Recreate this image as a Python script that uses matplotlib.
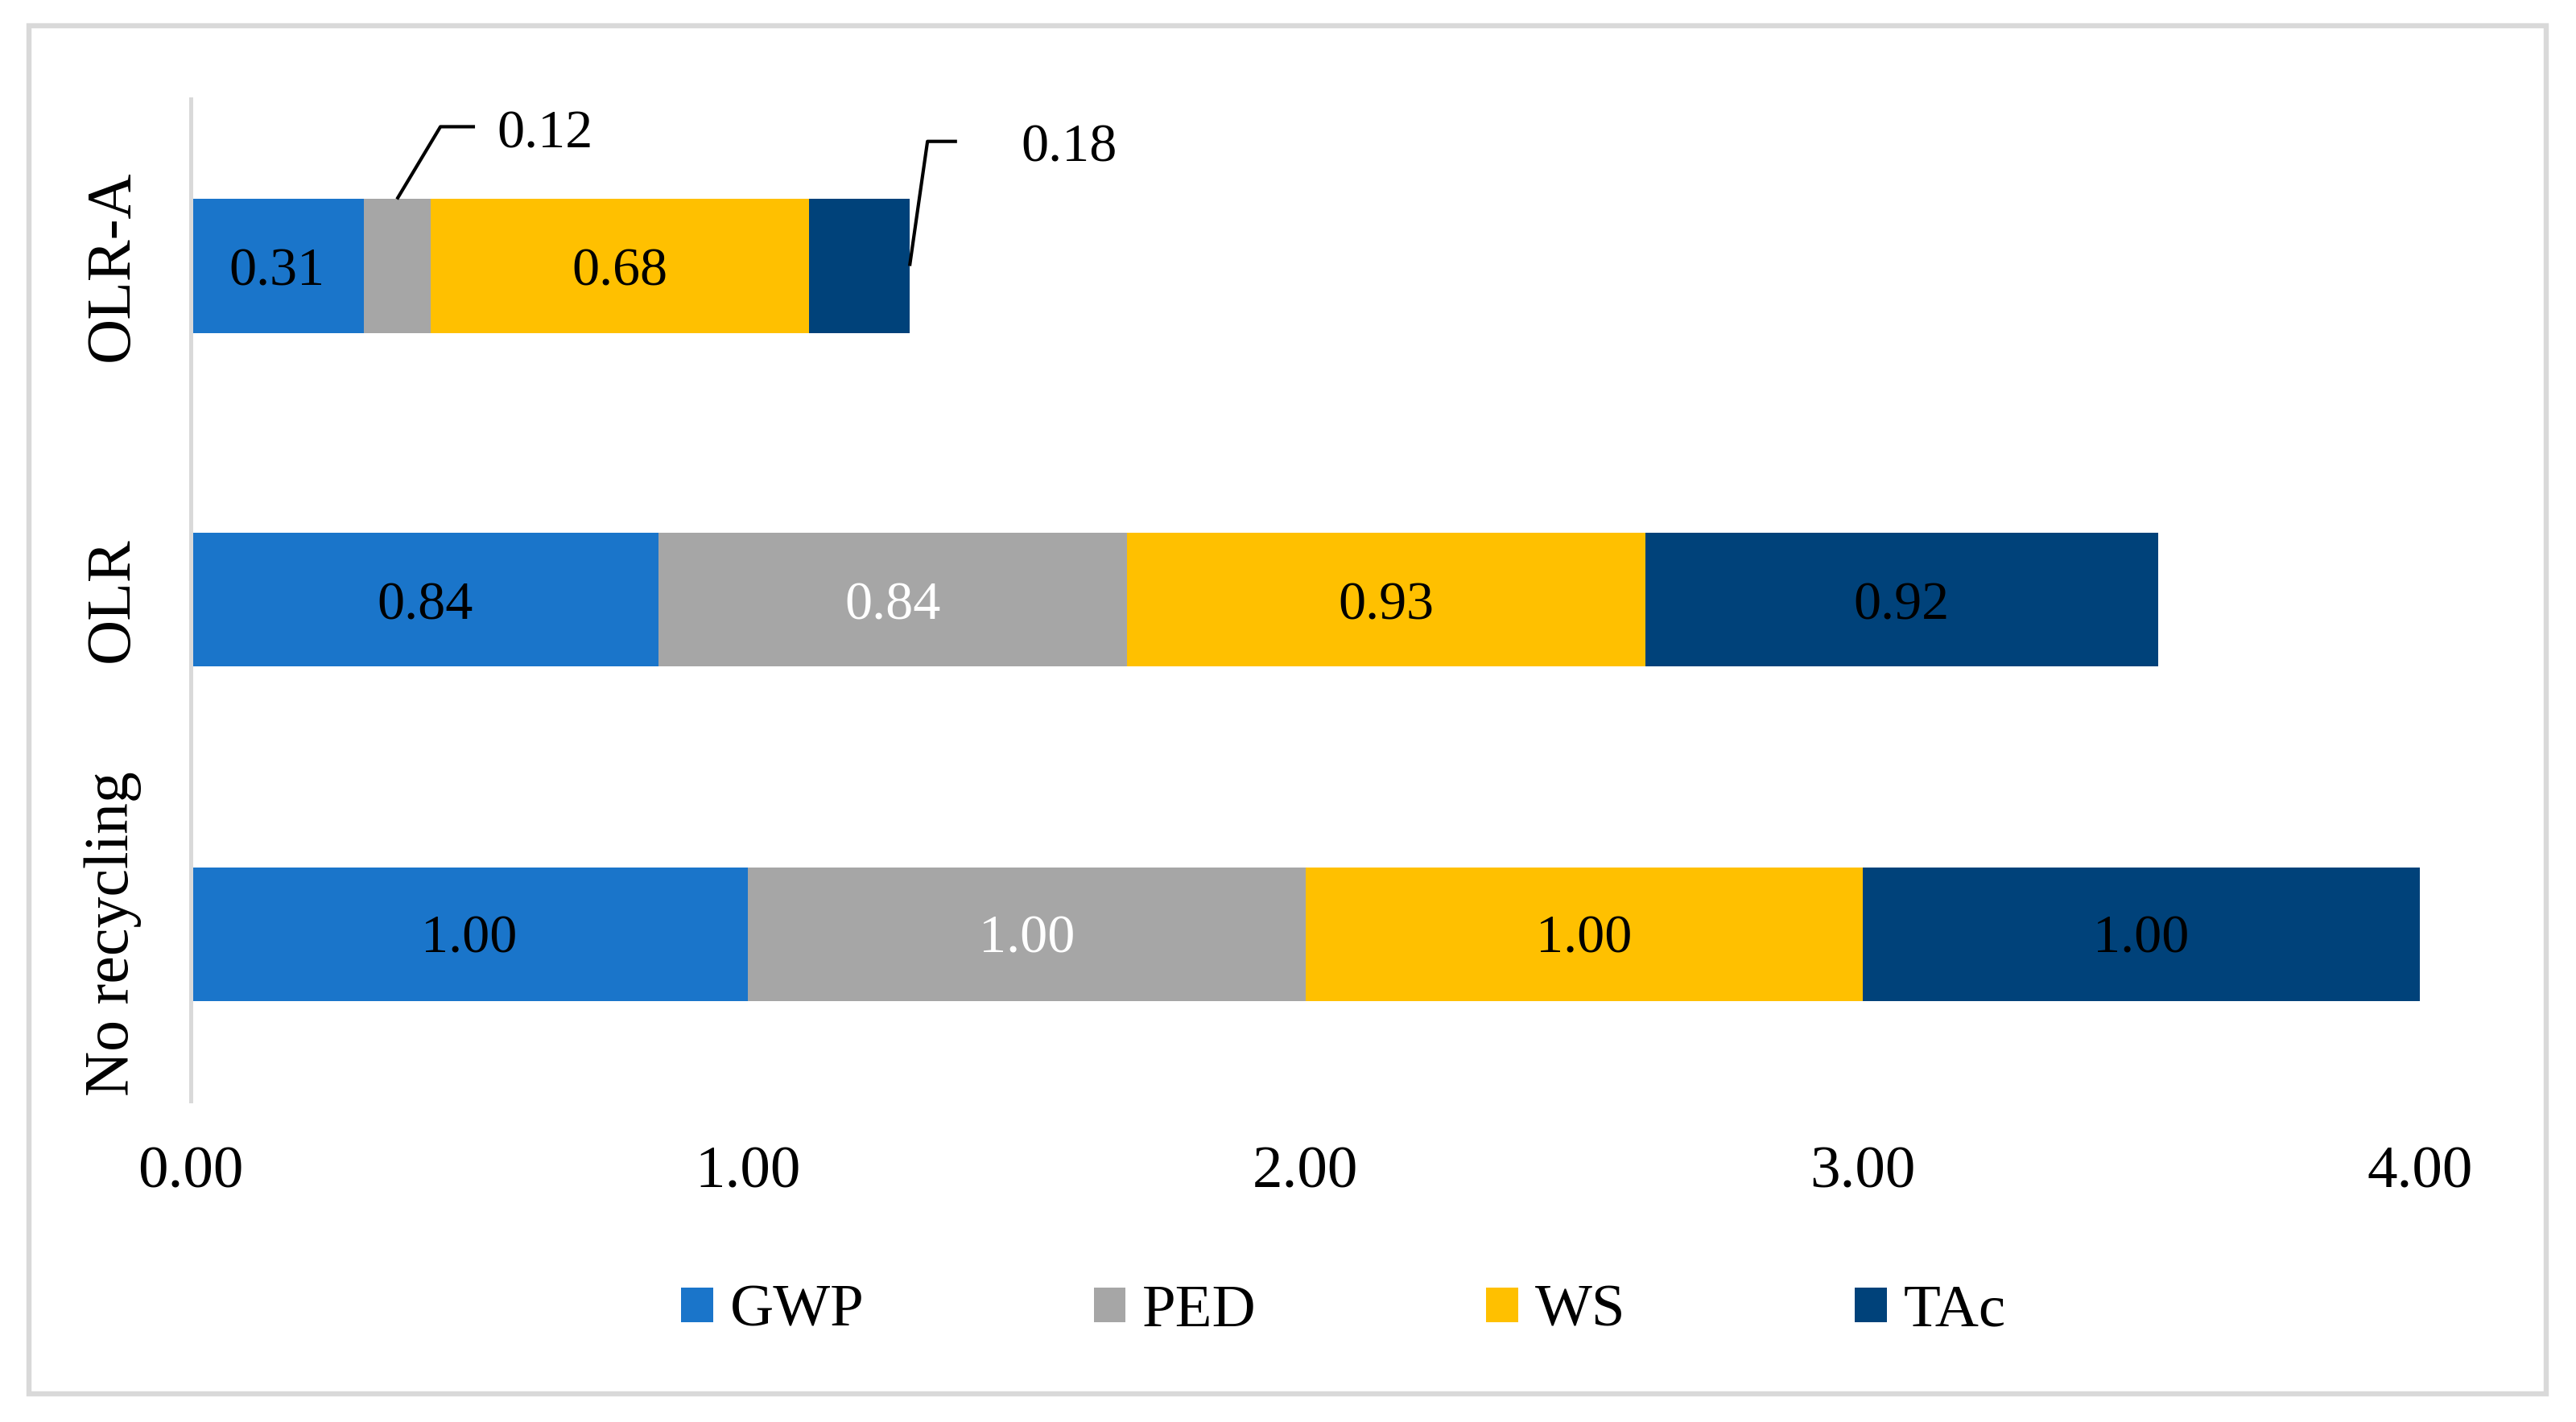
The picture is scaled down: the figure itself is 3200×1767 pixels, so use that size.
import matplotlib
matplotlib.use("Agg")
import matplotlib.pyplot as plt
from matplotlib.patches import Rectangle
import numpy as np

categories = ["No recycling", "OLR", "OLR-A"]
series = ["GWP", "PED", "WS", "TAc"]
gwp = [1.00, 0.84, 0.31]
ped = [1.00, 0.84, 0.12]
ws = [1.00, 0.93, 0.68]
tac = [1.00, 0.92, 0.18]
xticks = [0.0, 1.0, 2.0, 3.0, 4.0]
xticklabels = ["0.00", "1.00", "2.00", "3.00", "4.00"]

colors = ["#1A75CA", "#A6A6A6", "#FFC000", "#00427A"]
label_colors = ["black", "white", "black", "black"]

plt.rcParams['font.family'] = ['Liberation Serif', 'DejaVu Serif']

W, H = 3200, 1767
fig = plt.figure(figsize=(16, 8.835), dpi=200)
fig.patches.append(Rectangle((36 / W, 1 - 1732 / H), (3163 - 36) / W, (1732 - 32) / H,
                             transform=fig.transFigure, fill=False,
                             edgecolor="#D9D9D9", linewidth=2.3))

ax = fig.add_axes([237 / W, 1 - 1368 / H, (3006 - 237) / W, (1368 - 123) / H])
data = np.array([gwp, ped, ws, tac])
y = np.arange(len(categories))
left = np.zeros(len(categories))
bars = []
for i, name in enumerate(series):
    b = ax.barh(y, data[i], left=left, height=0.4, color=colors[i], label=name, linewidth=0)
    bars.append(b)
    for j in range(len(categories)):
        v = data[i][j]
        cx = left[j] + v / 2
        if j == 2 and name in ("PED", "TAc"):
            continue
        ax.text(cx, y[j], f"{v:.2f}", ha="center", va="center_baseline", fontsize=24.5,
                color=label_colors[i])
    left = left + data[i]

# leader-line labels for small OLR-A segments
j = 2
ped_center = gwp[j] + ped[j] / 2
ax.plot([ped_center, ped_center + 0.078, ped_center + 0.14],
        [y[j] + 0.2, y[j] + 0.417, y[j] + 0.417], color="black", lw=1.5,
        solid_capstyle="butt", clip_on=False)
ax.text(ped_center + 0.179, y[j] + 0.41, f"{ped[j]:.2f}", ha="left", va="center_baseline",
        fontsize=24.5)
tac_end = gwp[j] + ped[j] + ws[j] + tac[j]
ax.plot([tac_end, tac_end + 0.032, tac_end + 0.085],
        [y[j], y[j] + 0.373, y[j] + 0.373], color="black", lw=1.5,
        solid_capstyle="butt", clip_on=False)
ax.text(tac_end + 0.2, y[j] + 0.369, f"{tac[j]:.2f}", ha="left", va="center_baseline",
        fontsize=24.5)

ax.set_xlim(0, 4)
ax.set_ylim(-0.5, 2.5)
ax.set_xticks(xticks)
ax.set_xticklabels(xticklabels, fontsize=27)
ax.set_yticks(y)
ax.set_yticklabels(categories, fontsize=28, rotation=90, va="center")
ax.tick_params(axis="x", length=0, pad=20)
ax.tick_params(axis="y", length=0, pad=22)
for s in ["top", "right", "bottom"]:
    ax.spines[s].set_visible(False)
ax.spines["left"].set_color("#D9D9D9")
ax.spines["left"].set_linewidth(1.8)

fig.legend(handles=bars, labels=series, loc="center",
           bbox_to_anchor=(1669 / W, 1 - 1630 / H), ncol=4, frameon=False,
           fontsize=27, handlelength=0.53, handleheight=0.5, handletextpad=0.28,
           columnspacing=3.8)

fig.savefig("out.png", dpi=200)
